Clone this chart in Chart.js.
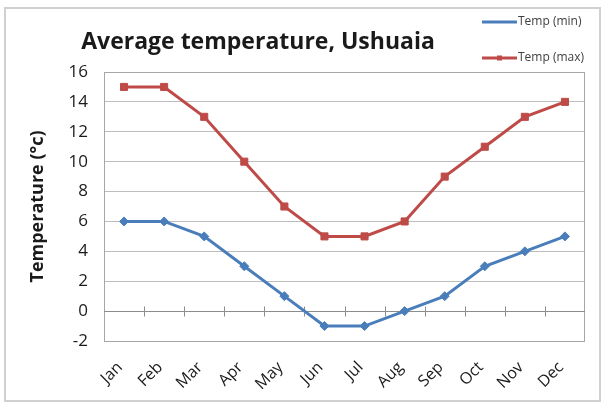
<!DOCTYPE html>
<html>
<head>
<meta charset="utf-8">
<script src="https://cdn.jsdelivr.net/npm/chart.js@4"></script>
<style>
  html, body { margin: 0; padding: 0; background: #fff; }
  #wrap { width: 603px; height: 406px; }
</style>
</head>
<body>
<div id="wrap"><canvas id="chart" width="603" height="406"></canvas></div>
<script>
months = ["Jan", "Feb", "Mar", "Apr", "May", "Jun", "Jul", "Aug", "Sep", "Oct", "Nov", "Dec"];
temp_min = [6, 6, 5, 3, 1, -1, -1, 0, 1, 3, 4, 5];
temp_max = [15, 15, 13, 10, 7, 5, 5, 6, 9, 11, 13, 14];
y_ticks = [-2, 0, 2, 4, 6, 8, 10, 12, 14, 16];

const blue = "#4a7ebb";
const red = "#be4b48";
const font_name = "'Open Sans', Lato, sans-serif";

// frame, title, legend, zero line
const extras = {
    id: "extras",
    beforeDraw(chart) {
        const ctx = chart.ctx;
        ctx.save();
        ctx.fillStyle = "#fff";
        ctx.fillRect(0, 0, chart.width, chart.height);
        ctx.restore();
    },
    beforeDatasetsDraw(chart) {
        const ctx = chart.ctx;
        const a = chart.chartArea;
        const x = chart.scales.x;
        const y = chart.scales.y;
        ctx.save();
        // plot border
        ctx.strokeStyle = "#a6a6a6";
        ctx.lineWidth = 1;
        ctx.strokeRect(a.left + 0.5, a.top + 0.5, a.right - a.left - 1, a.bottom - a.top);
        // x axis line at zero with tick marks
        const y0 = Math.round(y.getPixelForValue(0)) + 0.5;
        ctx.strokeStyle = "#8c8c8c";
        ctx.beginPath();
        ctx.moveTo(a.left, y0);
        ctx.lineTo(a.right, y0);
        for (let i = 1; i < months.length; i++) {
            const tx = Math.round((x.getPixelForValue(i - 1) + x.getPixelForValue(i)) / 2) + 0.5;
            ctx.moveTo(tx, y0 - 5);
            ctx.lineTo(tx, y0 + 5);
        }
        ctx.stroke();
        ctx.restore();
    },
    afterDraw(chart) {
        const ctx = chart.ctx;
        ctx.save();
        // outer frame
        ctx.strokeStyle = "#d0d0d0";
        ctx.lineWidth = 2;
        ctx.strokeRect(5, 8, 595, 393);
        // title
        ctx.fillStyle = "#1a1a1a";
        ctx.font = "bold 23px " + font_name;
        ctx.textAlign = "center";
        ctx.textBaseline = "middle";
        ctx.fillText("Average temperature, Ushuaia", 258, 42);
        // legend
        const items = [
            { label: chart.data.datasets[0].label, color: blue, style: "diamond", y: 22 },
            { label: chart.data.datasets[1].label, color: red, style: "square", y: 58 }
        ];
        ctx.font = "12px " + font_name;
        ctx.textAlign = "left";
        items.forEach(it => {
            ctx.strokeStyle = it.color;
            ctx.lineWidth = 3;
            ctx.beginPath();
            ctx.moveTo(482, it.y);
            ctx.lineTo(517, it.y);
            ctx.stroke();
            ctx.fillStyle = it.color;
            if (it.style == "square") ctx.fillRect(497, it.y - 2.5, 5, 5);
            ctx.fillStyle = "#404040";
            ctx.fillText(it.label, 518, it.y);
        });
        ctx.restore();
    }
};

new Chart(document.getElementById("chart").getContext("2d"), {
    type: "line",
    data: {
        labels: months,
        datasets: [{
            label: "Temp (min)",
            data: temp_min,
            borderColor: blue,
            backgroundColor: blue,
            borderWidth: 3,
            pointStyle: "rectRot",
            pointRadius: 4.5,
            pointBorderWidth: 1,
            tension: 0
        }, {
            label: "Temp (max)",
            data: temp_max,
            borderColor: red,
            backgroundColor: red,
            borderWidth: 3,
            pointStyle: "rect",
            pointRadius: 5,
            pointBorderWidth: 1,
            tension: 0
        }]
    },
    options: {
        responsive: false,
        animation: false,
        maintainAspectRatio: false,
        layout: { padding: { left: 0, top: 72, right: 18, bottom: 0 } },
        plugins: {
            legend: { display: false },
            title: { display: false },
            tooltip: { enabled: false }
        },
        scales: {
            x: {
                offset: true,
                grid: { display: false, drawTicks: false },
                border: { display: false },
                ticks: {
                    color: "#1a1a1a",
                    font: { family: font_name, size: 16 },
                    minRotation: 45,
                    maxRotation: 45,
                    padding: 17,
                    labelOffset: -4
                },
                afterFit(scale) { scale.height = 65; }
            },
            y: {
                min: -2,
                max: 16,
                afterBuildTicks(scale) { scale.ticks = y_ticks.map(v => ({ value: v })); },
                grid: { color: "#bdbdbd", lineWidth: 1, drawTicks: false },
                border: { color: "#a6a6a6" },
                ticks: {
                    color: "#1a1a1a",
                    font: { family: font_name, size: 17 },
                    padding: 16
                },
                title: {
                    display: true,
                    text: "Temperature (°c)",
                    color: "#1a1a1a",
                    font: { family: font_name, size: 18, weight: "bold" },
                    padding: { top: 27, bottom: 0 }
                },
                afterFit(scale) { scale.width = 104; }
            }
        }
    },
    plugins: [extras]
});
</script>
</body>
</html>
